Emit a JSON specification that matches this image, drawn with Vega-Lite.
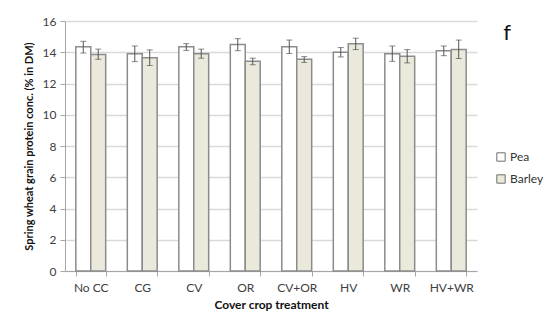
{
  "$schema": "https://vega.github.io/schema/vega-lite/v6.json",
  "width": 412,
  "height": 250,
  "autosize": {"type": "none"},
  "padding": {"left": 65, "top": 21, "right": 72, "bottom": 55},
  "background": "white",
  "title": {"text": "f", "orient": "top", "anchor": "end", "frame": "group", "fontSize": 22, "font": "Lato", "fontWeight": "normal", "color": "#111", "dx": 34, "dy": 34},
  "data": {"values": [
    {"treatment": "No CC", "crop": "Pea", "value": 14.35, "lo": 13.95, "hi": 14.7},
    {"treatment": "No CC", "crop": "Barley", "value": 13.85, "lo": 13.55, "hi": 14.2},
    {"treatment": "CG", "crop": "Pea", "value": 13.9, "lo": 13.4, "hi": 14.4},
    {"treatment": "CG", "crop": "Barley", "value": 13.65, "lo": 13.15, "hi": 14.15},
    {"treatment": "CV", "crop": "Pea", "value": 14.35, "lo": 14.12, "hi": 14.55},
    {"treatment": "CV", "crop": "Barley", "value": 13.9, "lo": 13.62, "hi": 14.2},
    {"treatment": "OR", "crop": "Pea", "value": 14.5, "lo": 14.1, "hi": 14.87},
    {"treatment": "OR", "crop": "Barley", "value": 13.42, "lo": 13.2, "hi": 13.62},
    {"treatment": "CV+OR", "crop": "Pea", "value": 14.35, "lo": 13.92, "hi": 14.78},
    {"treatment": "CV+OR", "crop": "Barley", "value": 13.55, "lo": 13.35, "hi": 13.72},
    {"treatment": "HV", "crop": "Pea", "value": 14.0, "lo": 13.7, "hi": 14.3},
    {"treatment": "HV", "crop": "Barley", "value": 14.55, "lo": 14.17, "hi": 14.9},
    {"treatment": "WR", "crop": "Pea", "value": 13.9, "lo": 13.42, "hi": 14.4},
    {"treatment": "WR", "crop": "Barley", "value": 13.75, "lo": 13.32, "hi": 14.17},
    {"treatment": "HV+WR", "crop": "Pea", "value": 14.1, "lo": 13.78, "hi": 14.4},
    {"treatment": "HV+WR", "crop": "Barley", "value": 14.17, "lo": 13.6, "hi": 14.78}
  ]},
  "encoding": {
    "x": {"field": "treatment", "type": "nominal", "sort": null,
      "scale": {"paddingInner": 0.42, "paddingOuter": 0.21},
      "axis": {"title": "Cover crop treatment", "labelAngle": 0, "tickBand": "extent", "domainColor": "#a6a6a6", "tickColor": "#a6a6a6", "tickSize": 5, "labelColor": "#404040", "labelFont": "Lato", "labelFontSize": 12, "labelPadding": 6, "titleFont": "Lato", "titleFontSize": 12, "titleFontWeight": "bold", "titleColor": "#111", "titlePadding": 6}},
    "xOffset": {"field": "crop", "type": "nominal", "sort": ["Pea", "Barley"]}
  },
  "layer": [
    {
      "mark": {"type": "bar", "stroke": "#8c8c8c", "strokeWidth": 1.5},
      "encoding": {
        "y": {"field": "value", "type": "quantitative",
          "scale": {"domain": [0, 16]},
          "axis": {"title": "Spring wheat grain protein conc. (% in DM)", "values": [0, 2, 4, 6, 8, 10, 12, 14, 16], "labelOverlap": false}},
        "fill": {"field": "crop", "type": "nominal", "sort": ["Pea", "Barley"],
          "scale": {"domain": ["Pea", "Barley"], "range": ["#ffffff", "#ebe8dc"]},
          "legend": {"title": null, "orient": "none", "legendX": 430, "legendY": 130, "symbolType": "square", "symbolSize": 70, "symbolStrokeColor": "#6e6e6e", "symbolStrokeWidth": 1, "labelFont": "Lato", "labelFontSize": 12, "labelColor": "#333", "rowPadding": 8, "labelOffset": 3}}
      }
    },
    {
      "mark": {"type": "rule", "color": "#555", "strokeWidth": 1},
      "encoding": {"y": {"field": "lo", "type": "quantitative", "axis": {"title": "Spring wheat grain protein conc. (% in DM)", "values": [0, 2, 4, 6, 8, 10, 12, 14, 16], "labelOverlap": false}}, "y2": {"field": "hi"}}
    },
    {
      "mark": {"type": "tick", "color": "#555", "thickness": 1, "size": 6},
      "encoding": {"y": {"field": "lo", "type": "quantitative", "axis": {"title": "Spring wheat grain protein conc. (% in DM)", "values": [0, 2, 4, 6, 8, 10, 12, 14, 16], "labelOverlap": false}}}
    },
    {
      "mark": {"type": "tick", "color": "#555", "thickness": 1, "size": 6},
      "encoding": {"y": {"field": "hi", "type": "quantitative", "axis": {"title": "Spring wheat grain protein conc. (% in DM)", "values": [0, 2, 4, 6, 8, 10, 12, 14, 16], "labelOverlap": false}}}
    }
  ],
  "config": {
    "view": {"stroke": null},
    "axisY": {"gridColor": "#d9d9d9", "gridWidth": 1.5, "domainColor": "#a6a6a6", "tickColor": "#a6a6a6", "tickSize": 5, "labelColor": "#404040", "labelFont": "Lato", "labelFontSize": 12, "labelPadding": 4, "titleFont": "Lato", "titleFontSize": 11, "titleFontWeight": "bold", "titleColor": "#111", "titlePadding": 8}
  }
}
